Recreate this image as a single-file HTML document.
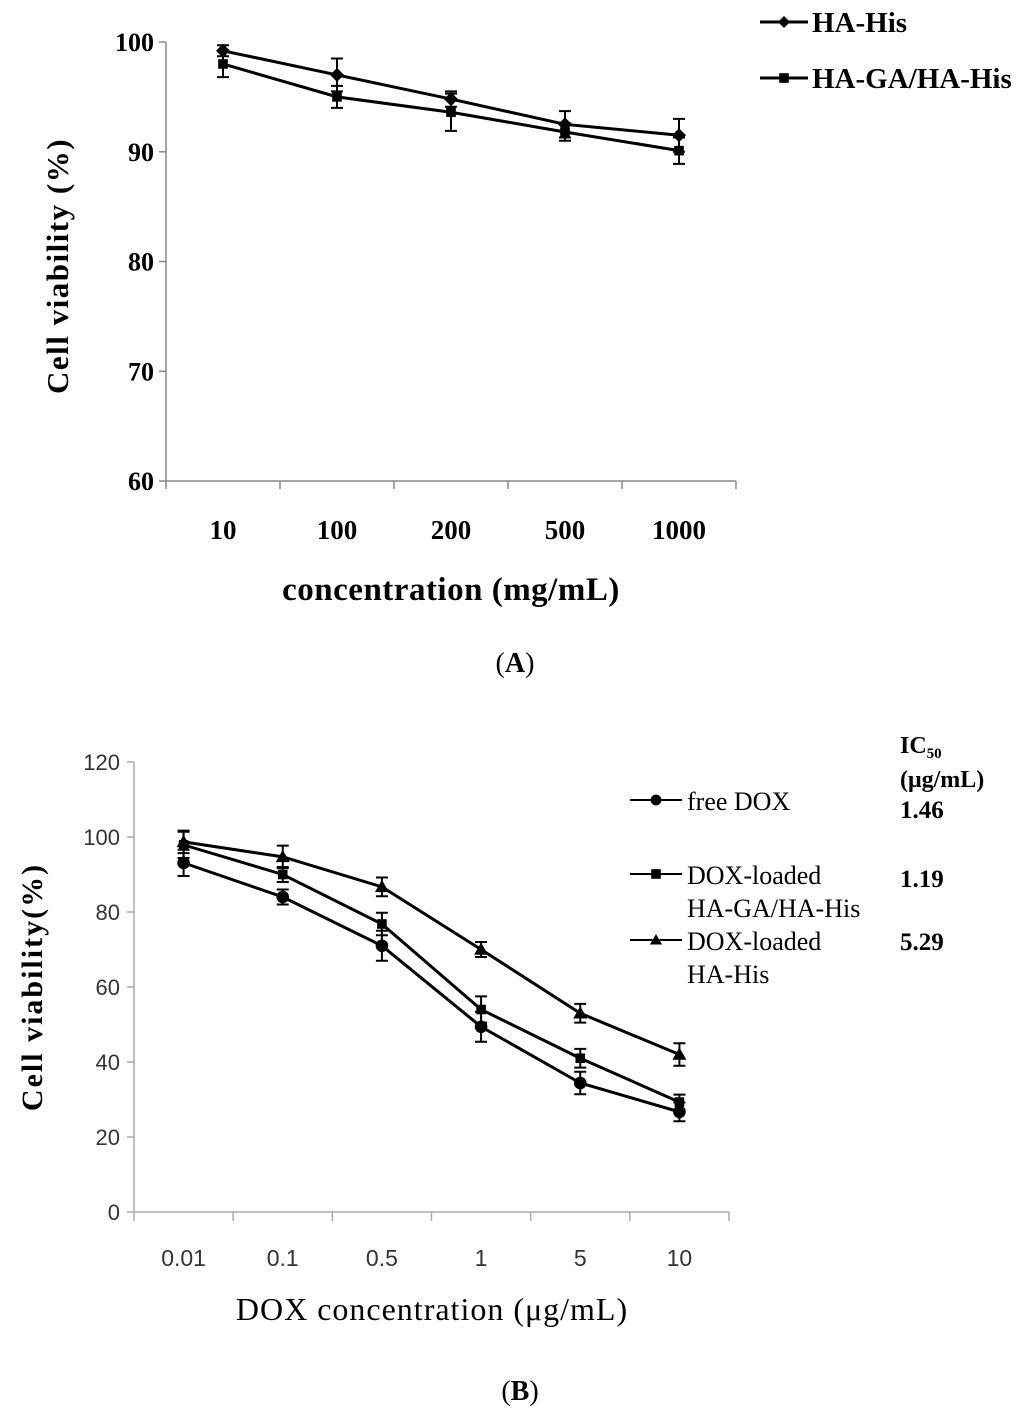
<!DOCTYPE html>
<html><head><meta charset="utf-8"><style>
body{margin:0;background:#fff;width:1024px;height:1425px;overflow:hidden}
svg{display:block}
.tb{font-family:"Liberation Serif",serif;font-weight:bold}
.tr{font-family:"Liberation Serif",serif}
.ts{font-family:"Liberation Sans",sans-serif}
</style></head><body>
<svg id="s" width="1024" height="1425" xmlns="http://www.w3.org/2000/svg">
<g id="A"></g>
<g id="B"></g>
<text class="tb" x="515" y="672" font-size="28" text-anchor="middle"><tspan font-weight="normal">(</tspan>A<tspan font-weight="normal">)</tspan></text>
<text class="tb" x="520" y="1400" font-size="28" text-anchor="middle"><tspan font-weight="normal">(</tspan>B<tspan font-weight="normal">)</tspan></text>
</svg>
<script>
// Chart A data
const aCats=["10","100","200","500","1000"];
const aTicks=[60,70,80,90,100];
const aHis=[99.2,97.0,94.8,92.5,91.5];
const aHisErr=[0.5,1.5,0.7,1.2,1.5];
const aGA=[98.0,95.0,93.6,91.8,90.1];
const aGAErr=[1.2,1.0,1.7,0.8,1.2];
// Chart B data
const bCats=["0.01","0.1","0.5","1","5","10"];
const bTicks=[0,20,40,60,80,100,120];
const bFree=[93.1,84.0,71.0,49.4,34.4,26.7];
const bFreeErr=[3.5,2.0,4.0,4.0,3.0,2.5];
const bGA=[97.9,90.0,76.8,54.0,41.0,29.3];
const bGAErr=[3.5,2.0,3.0,3.5,2.5,2.0];
const bHis=[98.7,94.7,86.7,70.0,53.0,42.0];
const bHisErr=[3.0,3.0,2.5,2.0,2.5,3.0];

const NS="http://www.w3.org/2000/svg";
function mk(p,t,a){const e=document.createElementNS(NS,t);for(const k in a)e.setAttribute(k,a[k]);p.appendChild(e);return e;}

function marker(g,type,x,y,s){
  let e;
  if(type==="diamond")e=mk(g,"polygon",{points:`${x},${y-s} ${x+s},${y} ${x},${y+s} ${x-s},${y}`,fill:"#000"});
  else if(type==="square")e=mk(g,"rect",{x:x-s*0.8,y:y-s*0.8,width:s*1.6,height:s*1.6,fill:"#000"});
  else if(type==="circle")e=mk(g,"circle",{cx:x,cy:y,r:s*0.9,fill:"#000"});
  else e=mk(g,"polygon",{points:`${x},${y-s} ${x+s},${y+s*0.75} ${x-s},${y+s*0.75}`,fill:"#000"});
  return e;
}
function series(g,name,vals,errs,xf,yf,type,ms,cap){
  const sg=mk(g,"g",{});
  
  
  const pts=vals.map((v,i)=>xf(i)+","+yf(v)).join(" ");
  const ln=mk(sg,"polyline",{points:pts,fill:"none",stroke:"#000","stroke-width":3});
  
  
  vals.forEach((v,i)=>{
    const x=xf(i),y1=yf(v+errs[i]),y2=yf(v-errs[i]);
    const eb=mk(sg,"path",{d:`M${x},${y1}V${y2}M${x-cap},${y1}H${x+cap}M${x-cap},${y2}H${x+cap}`,stroke:"#000","stroke-width":2,fill:"none"});
    
    
    const m=marker(sg,type,x,yf(v),ms);
    
    
  });
}
// Chart A
(function(){
  const g=document.getElementById("A");
  const x0=166,x1=736,yb=481,yt=42,vmin=60,vmax=100;
  const yf=v=>yb-(v-vmin)/(vmax-vmin)*(yb-yt);
  const step=(x1-x0)/aCats.length;
  const xf=i=>x0+step*(i+0.5);
  mk(g,"path",{d:`M${x0},${yt}V${yb}H${x1}`,stroke:"#888","stroke-width":1.5,fill:"none"});
  aTicks.forEach(t=>{
    mk(g,"line",{x1:x0-7,x2:x0,y1:yf(t),y2:yf(t),stroke:"#888","stroke-width":1.5});
    const tx=mk(g,"text",{x:x0-12,y:yf(t)+9,"font-size":26,"text-anchor":"end",class:"tb"});tx.textContent=t;
    
  });
  for(let i=0;i<=aCats.length;i++)mk(g,"line",{x1:x0+step*i,x2:x0+step*i,y1:yb,y2:yb+8,stroke:"#888","stroke-width":1.5});
  aCats.forEach((c,i)=>{const tx=mk(g,"text",{x:xf(i),y:539,"font-size":27,"text-anchor":"middle",class:"tb"});tx.textContent=c;
    });
  const xt=mk(g,"text",{x:451,y:600,"font-size":33,"text-anchor":"middle",class:"tb","letter-spacing":"0.5"});xt.textContent="concentration (mg/mL)";
  
  const yt2=mk(g,"text",{x:0,y:0,"font-size":31,"text-anchor":"middle",class:"tb","letter-spacing":"1.5",transform:`translate(68,266) rotate(-90)`});yt2.textContent="Cell viability (%)";
  
  series(g,"ha-his-series",aHis,aHisErr,xf,yf,"diamond",7,6);
  series(g,"ha-ga-series",aGA,aGAErr,xf,yf,"square",6,6);
  // legend
  [["HA-His","diamond",22],["HA-GA/HA-His","square",78]].forEach(([l,t,y])=>{
    const lg=mk(g,"g",{});
    mk(lg,"line",{x1:760,x2:808,y1:y,y2:y,stroke:"#000","stroke-width":3});marker(lg,t,784,y,6);
    const tx=mk(lg,"text",{x:812,y:y+10,"font-size":29,class:"tb"});tx.textContent=l;
  });
})();
// Chart B
(function(){
  const g=document.getElementById("B");
  const x0=134,x1=729,yb=1212,yt=762,vmin=0,vmax=120;
  const yf=v=>yb-(v-vmin)/(vmax-vmin)*(yb-yt);
  const step=(x1-x0)/bCats.length;
  const xf=i=>x0+step*(i+0.5);
  mk(g,"path",{d:`M${x0},${yt}V${yb}H${x1}`,stroke:"#aaa","stroke-width":1.5,fill:"none"});
  bTicks.forEach(t=>{
    mk(g,"line",{x1:x0-7,x2:x0,y1:yf(t),y2:yf(t),stroke:"#aaa","stroke-width":1.5});
    const tx=mk(g,"text",{x:x0-14,y:yf(t)+8,"font-size":22,"text-anchor":"end",class:"ts",fill:"#333"});tx.textContent=t;
    
  });
  for(let i=0;i<=bCats.length;i++)mk(g,"line",{x1:x0+step*i,x2:x0+step*i,y1:yb,y2:yb+9,stroke:"#aaa","stroke-width":1.5});
  bCats.forEach((c,i)=>{const tx=mk(g,"text",{x:xf(i),y:1266,"font-size":23,"text-anchor":"middle",class:"ts",fill:"#333"});tx.textContent=c;
    });
  const xt=mk(g,"text",{x:432,y:1320,"font-size":32,"text-anchor":"middle",class:"tr","letter-spacing":"1"});xt.textContent="DOX concentration (μg/mL)";
  
  const yt2=mk(g,"text",{x:0,y:0,"font-size":30,"text-anchor":"middle",class:"tb","letter-spacing":"2",transform:`translate(42,987) rotate(-90)`});yt2.textContent="Cell viability(%)";
  
  series(g,"dox-ha-his-series",bHis,bHisErr,xf,yf,"triangle",7,6);
  series(g,"dox-ha-ga-series",bGA,bGAErr,xf,yf,"square",6,6);
  series(g,"free-dox-series",bFree,bFreeErr,xf,yf,"circle",7,6);
  // legend
  [[["free DOX"],"circle",800,"1.46",818],[["DOX-loaded","HA-GA/HA-His"],"square",874,"1.19",887],[["DOX-loaded","HA-His"],"triangle",940,"5.29",950]].forEach(([ls,t,y,ic,iy])=>{
    const lg=mk(g,"g",{});
    mk(lg,"line",{x1:630,x2:682,y1:y,y2:y,stroke:"#000","stroke-width":2});marker(lg,t,656,y,6);
    ls.forEach((l,k)=>{const tx=mk(lg,"text",{x:687,y:y+10+k*33,"font-size":26,class:"tr"});tx.textContent=l;});
    const v=mk(lg,"text",{x:900,y:iy,"font-size":25,class:"tb"});v.textContent=ic;
  });
  const h=mk(g,"text",{x:900,y:753,"font-size":24,class:"tb"});h.innerHTML='IC<tspan font-size="15" dy="5">50</tspan>';
  
  const h2=mk(g,"text",{x:900,y:787,"font-size":24,class:"tb"});h2.textContent="(μg/mL)";
  
})();
</script>
</body></html>
